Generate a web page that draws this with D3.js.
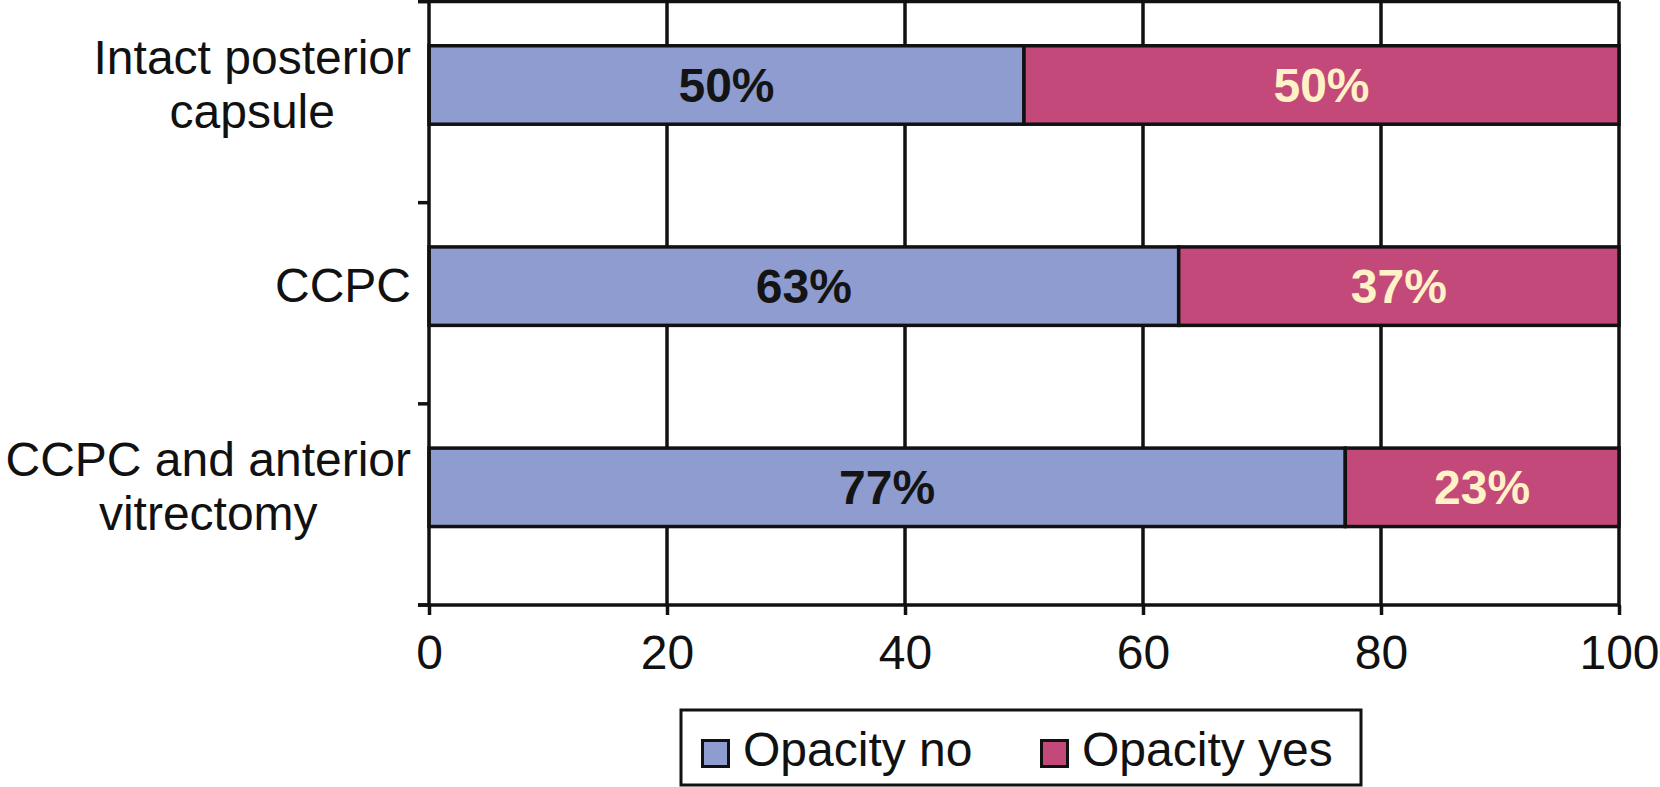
<!DOCTYPE html>
<html><head><meta charset="utf-8">
<script src="https://cdn.jsdelivr.net/npm/d3@7"></script>
<style>html,body{margin:0;padding:0;background:#fff;}svg{display:block;}</style>
</head><body>
<svg id="chart" width="1660" height="787"></svg>
<script>
const categories = ["Intact posterior capsule", "CCPC", "CCPC and anterior vitrectomy"];
const labelLines = [["Intact posterior", "capsule"], ["CCPC"], ["CCPC and anterior", "vitrectomy"]];
const opacityNo = [50, 63, 77];
const opacityYes = [50, 37, 23];
const xTicks = [0, 20, 40, 60, 80, 100];
const seriesNames = ["Opacity no", "Opacity yes"];
const seriesColors = ["#8F9CD0", "#C4497B"];
const labelColors = ["#141414", "#FFF2C6"];

(function () {
const svg = d3.select("#chart");
const FONT = "'Liberation Sans', Arial, Helvetica, sans-serif";
const pL = 429, pR = 1619, pT = 1.5, pB = 605;

const x = d3.scaleLinear().domain([0, 100]).range([pL, pR]);
const y = d3.scaleBand().domain(categories).range([pT, pB]).padding(0);

// gridlines
svg.append("g").selectAll("line").data(xTicks.filter(d => d > 0)).join("line")
  .attr("x1", d => x(d)).attr("x2", d => x(d))
  .attr("y1", pT).attr("y2", pB)
  .attr("stroke", "#111").attr("stroke-width", 3.5);

// top line
svg.append("line").attr("x1", pL - 11).attr("x2", pR).attr("y1", pT).attr("y2", pT)
  .attr("stroke", "#111").attr("stroke-width", 3.5);

// stacked data
const stacked = categories.map((c, i) => ({
  cat: c,
  segs: [
    {s: 0, x0: 0, x1: opacityNo[i], v: opacityNo[i]},
    {s: 1, x0: opacityNo[i], x1: opacityNo[i] + opacityYes[i], v: opacityYes[i]}
  ]
}));

const barOff = y.bandwidth() * 0.22, barH = y.bandwidth() * 0.39;
const g = svg.append("g");
stacked.forEach(row => {
  row.segs.forEach(sg => {
    g.append("rect")
      .attr("x", x(sg.x0)).attr("width", x(sg.x1) - x(sg.x0))
      .attr("y", y(row.cat) + barOff).attr("height", barH)
      .attr("fill", seriesColors[sg.s]).attr("stroke", "#111").attr("stroke-width", 3.5);
    g.append("text")
      .attr("x", (x(sg.x0) + x(sg.x1)) / 2)
      .attr("y", y(row.cat) + barOff + barH / 2 + 17)
      .attr("text-anchor", "middle")
      .attr("font-family", FONT).attr("font-weight", "bold").attr("font-size", 48)
      .attr("fill", labelColors[sg.s])
      .text(sg.v + "%");
  });
});

// left axis
svg.append("line").attr("x1", pL).attr("x2", pL).attr("y1", 0).attr("y2", pB)
  .attr("stroke", "#111").attr("stroke-width", 3.5);
const bounds = categories.map(c => y(c)).concat([pB]);
svg.append("g").selectAll("line").data(bounds).join("line")
  .attr("x1", pL - 11).attr("x2", pL).attr("y1", d => d).attr("y2", d => d)
  .attr("stroke", "#111").attr("stroke-width", 3.5);

// category labels (right-aligned block, lines centered)
const lab = svg.append("g").attr("font-family", FONT).attr("font-size", 48).attr("fill", "#111");
labelLines.forEach((lines, i) => {
  const widths = lines.map(t => {
    const n = lab.append("text").text(t);
    const w = n.node().getComputedTextLength();
    n.remove();
    return w;
  });
  const maxW = Math.max(...widths);
  const cx = 411 - maxW / 2;
  const cy = y(categories[i]) + barOff + barH / 2 - 1;
  const lh = 54;
  lines.forEach((t, j) => {
    lab.append("text").attr("x", cx).attr("text-anchor", "middle")
      .attr("y", cy - (lines.length - 1) * lh / 2 + j * lh + 17)
      .text(t);
  });
});

// bottom axis
const xAxis = svg.append("g").attr("transform", `translate(0,${pB})`)
  .call(d3.axisBottom(x).tickValues(xTicks).tickSize(10).tickSizeOuter(0).tickPadding(0));
xAxis.select(".domain").attr("stroke", "#111").attr("stroke-width", 3.5).attr("d", `M${pL - 11},0H${pR}`);
xAxis.selectAll(".tick line").attr("stroke", "#111").attr("stroke-width", 3.5);
xAxis.selectAll(".tick text").attr("font-family", FONT).attr("font-size", 48)
  .attr("fill", "#111").attr("dy", null).attr("y", 64);

// legend
const leg = svg.append("g");
leg.append("rect").attr("x", 681).attr("y", 710).attr("width", 680).attr("height", 75)
  .attr("fill", "#fff").attr("stroke", "#111").attr("stroke-width", 3);
const legX = [701, 1040];
seriesNames.forEach((n, i) => {
  leg.append("rect").attr("x", legX[i] + 1.5).attr("y", 740.5).attr("width", 26).attr("height", 26)
    .attr("fill", seriesColors[i]).attr("stroke", "#111").attr("stroke-width", 3);
  leg.append("text").attr("x", legX[i] + 42).attr("y", 766)
    .attr("font-family", FONT).attr("font-size", 48).attr("fill", "#111")
    .text(n);
});
})();
</script>
</body></html>
